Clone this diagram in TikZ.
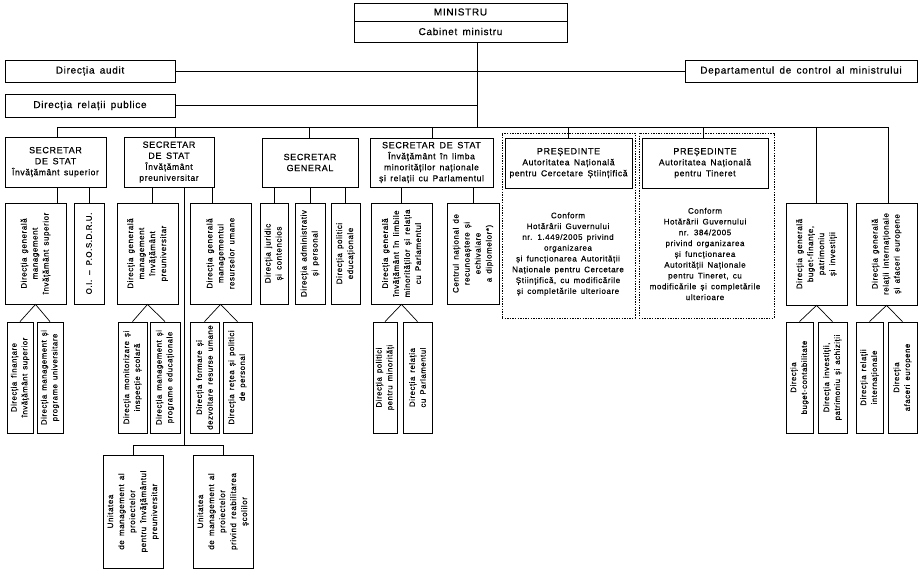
\documentclass[tikz,border=0pt]{standalone}
\usepackage{fontspec}
\setmainfont{Liberation Sans}[LetterSpace=7,WordSpace=1.5,FakeBold=0.4]
\newcommand{\sub}[1]{{\fontsize{8.5}{11}\selectfont #1}}
\newcommand{\bx}[7][]{\node[box,#1,minimum width={(#5-#3)*1pt},minimum height={(#6-#4)*1pt}] (#2) at ({(#3+#5)/2},{(#4+#6)/2}) {#7};}
\newcommand{\vbx}[7][]{\node[box,minimum width={(#5-#3)*1pt},minimum height={(#6-#4)*1pt},label={[vlab,#1]center:{#7}}] (#2) at ({(#3+#5)/2},{(#4+#6)/2}) {};}
\tikzset{
 box/.style={draw, line width=0.8pt, inner sep=0pt, align=center, font=\fontsize{8}{10.5}\selectfont},
 vlab/.style={rotate=90, align=center, inner sep=0pt, font=\fontsize{8}{11}\selectfont},
 big/.style={font=\fontsize{10}{12}\selectfont},
 sec/.style={font=\fontsize{9}{11}\selectfont},
 ch/.style={font=\fontsize{7.8}{10.8}\selectfont},
 dotbox/.style={dash pattern=on 1.4pt off 1.2pt, line width=0.9pt},
 link/.style={line width=0.7pt},
}
\begin{document}
\begin{tikzpicture}[x=1pt,y=-1pt]
\useasboundingbox[fill=white] (0,0) rectangle (921,575);
% top
\bx[big]{min}{354}{3}{567}{21}{MINISTRU}
\bx[big]{cab}{354}{21}{567}{42}{Cabinet ministru}
\bx[big]{audit}{5}{60}{175}{82}{Direcția audit}
\bx[big]{relpub}{5}{94}{175}{117}{Direcția relații publice}
\bx[big]{dep}{685}{60}{917}{82}{Departamentul de control al ministrului}
\coordinate (tb) at (477,127);
\coordinate (b1) at (57,127);
\coordinate (b2) at (175,127);
\coordinate (b3) at (309,127);
\coordinate (b4) at (432,127);
\coordinate (b5) at (568,127);
\coordinate (b6) at (703,127);
\coordinate (b7) at (816,127);
\coordinate (b8) at (888,127);
\draw[link] (cab.south -| tb) -- (tb);
\draw[link] (audit.east) -- (audit.east -| tb);
\draw[link] (relpub.east) -- (relpub.east -| tb);
\draw[link] (dep.west) -- (dep.west -| tb);
\draw[link] (b1) -- (b8);
% secretaries
\bx[sec]{s1}{5}{137}{106}{187}{SECRETAR\\DE STAT\\\sub{Învățământ superior}}
\bx[sec]{s2}{124}{137}{214}{187}{SECRETAR\\DE STAT\\\sub{Învățământ}\\\sub{preuniversitar}}
\bx[sec]{s3}{262}{138}{358}{187}{SECRETAR\\GENERAL}
\bx[sec]{s4}{370}{138}{493}{187}{SECRETAR DE STAT\\\sub{Învățământ în limba}\\\sub{minorităților naționale}\\\sub{și relații cu Parlamentul}}
\bx[dotbox]{d1}{502}{133}{635}{318}{}
\bx[dotbox]{d2}{639}{133}{774}{318}{}
\bx[sec]{p1}{505}{138}{632}{188}{PREȘEDINTE\\\sub{Autoritatea Națională}\\\sub{pentru Cercetare Științifică}}
\bx[sec]{p2}{642}{138}{768}{188}{PREȘEDINTE\\\sub{Autoritatea Națională}\\\sub{pentru Tineret}}
\node[font=\fontsize{8}{10.8}\selectfont, align=center] (conf1) at (568,254) {Conform\\Hotărârii Guvernului\\nr. 1.449/2005 privind\\organizarea\\și funcționarea Autorității\\Naționale pentru Cercetare\\Științifică, cu modificările\\și completările ulterioare};
\node[font=\fontsize{8}{10.8}\selectfont, align=center] (conf2) at (705,254) {Conform\\Hotărârii Guvernului\\nr. 384/2005\\privind organizarea\\și funcționarea\\Autorității Naționale\\pentru Tineret, cu\\modificările și completările\\ulterioare};
\foreach \b/\n in {b1/s1,b2/s2,b3/s3,b4/s4,b5/p1,b6/p2}
  \draw[link] (\b) -- (\n.north -| \b);
% directions
\vbx{dg1}{5}{203}{66}{304}{Direcția generală\\management\\învățământ superior}
\vbx{oi}{74}{203}{104}{304}{O.I.\hspace{5pt}–\hspace{5pt}P.O.S.D.R.U.}
\vbx{dgp}{117}{203}{178}{304}{Direcția generală\\management\\învățământ\\preuniversitar}
\vbx{dgru}{190}{203}{251}{304}{Direcția generală\\managementul\\resurselor umane}
\vbx{jur}{260}{203}{288}{304}{Direcția juridic\\și contencios}
\vbx{adm}{295}{203}{325}{304}{Direcția administrativ\\și personal}
\vbx{pol}{331}{203}{360}{304}{Direcția politici\\educaționale}
\vbx{dgm}{371}{203}{432}{304}{Direcția generală\\învățământ în limbile\\minorităților și relația\\cu Parlamentul}
\vbx{cen}{447}{203}{499}{304}{Centrul național de\\recunoaștere și\\echivalare\\a diplomelor*)}
\vbx{dgb}{786}{203}{847}{305}{Direcția generală\\buget-finanțe,\\patrimoniu\\și investiții}
\vbx{dgr}{856}{203}{917}{305}{Direcția generală\\relații internaționale\\și afaceri europene}
\coordinate (x152) at (152,0);
\coordinate (x212) at (212,0);
\draw[link] (s1.south -| b1) -- (dg1.north -| b1);
\draw[link] (s1.south -| oi.north) -- (oi.north);
\draw[link] (s2.south -| x152) -- (dgp.north -| x152);
\draw[link] (s2.south -| x212) -- (dgru.north -| x212);
\foreach \n in {jur,adm,pol} \draw[link] (s3.south -| \n.north) -- (\n.north);
\foreach \n in {dgm,cen} \draw[link] (s4.south -| \n.north) -- (\n.north);
\draw[link] (b7) -- (dgb.north -| b7);
\draw[link] (b8) -- (dgr.north -| b8);
% children
\vbx[ch]{c1a}{7}{322}{33}{433}{Direcția finanțare\\învățământ superior}
\vbx[ch]{c1b}{37}{322}{63}{433}{Direcția management și\\programe universitare}
\vbx[ch]{c2a}{118}{322}{147}{433}{Direcția monitorizare și\\inspecție școlară}
\vbx[ch]{c2b}{150}{322}{180}{433}{Direcția management și\\programe educaționale}
\vbx[ch]{c3a}{190}{322}{219}{433}{Direcția formare și\\dezvoltare resurse umane}
\vbx[ch]{c3b}{223}{322}{252}{433}{Direcția rețea și politici\\de personal}
\vbx[ch]{c4a}{373}{322}{397}{433}{Direcția politici\\pentru minorități}
\vbx[ch]{c4b}{403}{322}{432}{433}{Direcția relația\\cu Parlamentul}
\vbx[ch]{c5a}{786}{322}{813}{433}{Direcția\\buget-contabilitate}
\vbx[ch]{c5b}{818}{322}{847}{433}{Direcția investiții,\\patrimoniu și achiziții}
\vbx[ch]{c6a}{856}{322}{883}{433}{Direcția relații\\internaționale}
\vbx[ch]{c6b}{888}{322}{917}{433}{Direcția\\afaceri europene}
\foreach \p/\a/\b in {dg1/c1a/c1b,dgp/c2a/c2b,dgru/c3a/c3b,dgm/c4a/c4b,dgb/c5a/c5b,dgr/c6a/c6b}{
  \draw[link] (\a.north) -- (\p.south) -- (\b.north);
}
% bottom units
\vbx{u1}{103}{455}{163}{568}{Unitatea\\de management al\\proiectelor\\pentru învățământul\\preuniversitar}
\vbx{u2}{193}{455}{253}{568}{Unitatea\\de management al\\proiectelor\\privind reabilitarea\\școlilor}
\coordinate (lj) at (184,445);
\draw[link] (s2.south -| lj) -- (lj);
\draw[link] (u1.north) -- (u1.north |- lj) -- (u2.north |- lj) -- (u2.north);
\end{tikzpicture}
\end{document}
